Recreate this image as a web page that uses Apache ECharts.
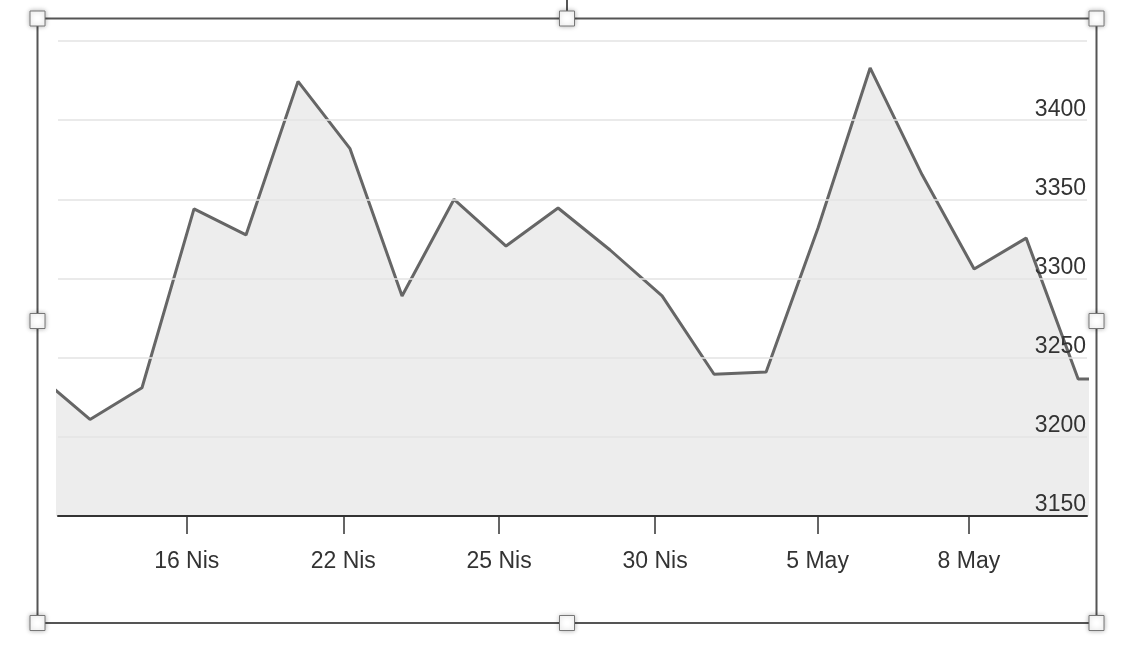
<!DOCTYPE html>
<html>
<head>
<meta charset="utf-8">
<script src="https://cdn.jsdelivr.net/npm/echarts@6/dist/echarts.min.js"></script>
<style>
html,body{margin:0;padding:0;background:#fff;}
#chart{width:1138px;height:662px;}
</style>
</head>
<body>
<div id="chart"></div>
<script>
// Trading-day index (position along the x axis) and closing values
const dayIndex = [0,1,2,3,4,5,6,7,8,9,10,11,12,13,14,15,16,17,18,19,20,21];
const values = [3239,3211,3231,3344,3327.5,3424.5,3382,3289,3350,3320.5,3344.5,3318,3289,3239.5,3241,3332,3433,3365.5,3306,3325.5,3236.5,3236.5];
// Date ticks: position (in trading-day index units) and label
const tickPositions = [2.86, 5.87, 8.865, 11.865, 14.99, 17.9];
const tickLabels = ['16 Nis','22 Nis','25 Nis','30 Nis','5 May','8 May'];
const yTicks = [3150,3200,3250,3300,3350,3400,3450];

const chart = echarts.init(document.getElementById('chart'), null, {renderer:'canvas'});
const FONT = 'Liberation Sans, Arial, Helvetica, sans-serif';

const handleSize = 15;
const handleCenters = [[37.5,18.5],[567,18.5],[1096.5,18.5],[37.5,321],[1096.5,321],[37.5,623],[567,623],[1096.5,623]];
const handles = handleCenters.map(c => ({
  type:'rect', z:100,
  shape:{x:c[0]-handleSize/2, y:c[1]-handleSize/2, width:handleSize, height:handleSize},
  style:{fill:'#fff', stroke:'#777', lineWidth:1, shadowBlur:5, shadowColor:'rgba(0,0,0,0.3)'}
}));

chart.setOption({
  animation:false,
  grid:{left:58, right:51, top:41, bottom:146, containLabel:false},
  xAxis:{
    type:'value', min:0.385, max:20.17, z:10,
    axisLine:{show:true, onZero:false, lineStyle:{color:'#333', width:2}},
    axisTick:{show:true, length:18, customValues:tickPositions, lineStyle:{color:'#333', width:1.5}},
    axisLabel:{show:true, customValues:tickPositions, margin:34, color:'#333', fontSize:23, fontFamily:FONT,
      formatter:function(v){ let best=0; for(let i=0;i<tickPositions.length;i++){ if(Math.abs(tickPositions[i]-v)<Math.abs(tickPositions[best]-v)) best=i;} return tickLabels[best]; }},
    splitLine:{show:false}
  },
  yAxis:{
    type:'value', position:'right', min:yTicks[0], max:yTicks[yTicks.length-1], interval:50, z:10,
    axisLine:{show:false}, axisTick:{show:false},
    axisLabel:{inside:true, margin:1, color:'#333', fontSize:23, fontFamily:FONT, verticalAlign:'bottom', align:'right', showMaxLabel:false, lineHeight:22,
      formatter:function(v){ return String(v); }},
    splitLine:{show:true, lineStyle:{color:'#e3e3e3', width:1.5}}
  },
  series:[{
    type:'line',
    data: dayIndex.map((d,i)=>[d, values[i]]),
    symbol:'none',
    lineStyle:{color:'#666', width:3},
    areaStyle:{color:'#ededed', opacity:1, origin:'start'},
    clip:true,
    z:1
  }],
  graphic:[
    {type:'rect', z:90, shape:{x:37.5, y:18.5, width:1059, height:604.5}, style:{fill:null, stroke:'#555', lineWidth:2}},
    {type:'line', z:90, shape:{x1:567, y1:0, x2:567, y2:18}, style:{stroke:'#555', lineWidth:2}}
  ].concat(handles)
});
</script>
</body>
</html>
